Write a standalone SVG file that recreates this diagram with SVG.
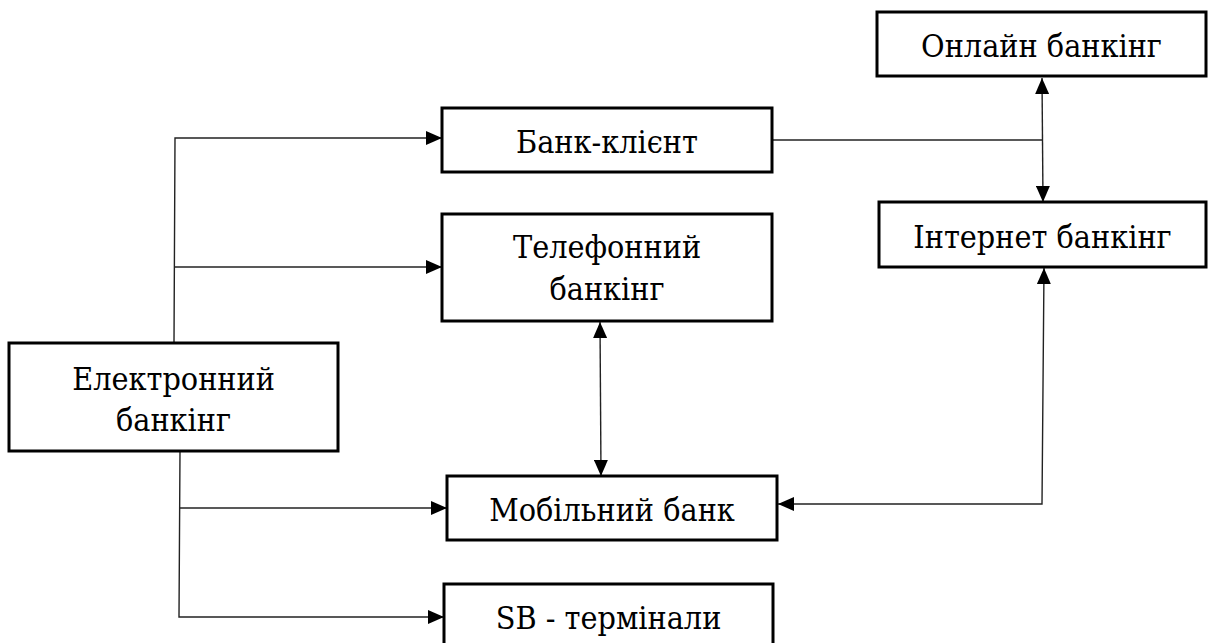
<svg xmlns="http://www.w3.org/2000/svg" width="1208" height="643" viewBox="0 0 1208 643">
<style>
.box{fill:#fff;stroke:#000;stroke-width:3}
.t{font-family:'DejaVu Serif Condensed','DejaVu Serif',serif;font-stretch:condensed;font-size:32px;fill:#000;text-anchor:middle}
.c{fill:none;stroke:#222;stroke-width:1.4}
</style>
<defs>
<marker id="ah" markerUnits="userSpaceOnUse" viewBox="0 0 16 14" refX="16" refY="7" markerWidth="16" markerHeight="14" orient="auto-start-reverse">
<path d="M0,0 L16,7 L0,14 Z" fill="#000"/>
</marker>
</defs>
<rect width="1208" height="643" fill="#fff"/>
<g id="connectors">
<path class="c" d="M174,343 L175,138 L442,138" marker-end="url(#ah)"/>
<path class="c" d="M174,267 L442,267" marker-end="url(#ah)"/>
<path class="c" d="M180,451 L179,617 L444,617" marker-end="url(#ah)"/>
<path class="c" d="M180,508 L447,508" marker-end="url(#ah)"/>
<path class="c" d="M600,322 L601,476" marker-start="url(#ah)" marker-end="url(#ah)"/>
<path class="c" d="M772,140 L1043,140"/>
<path class="c" d="M1042,78 L1043,202" marker-start="url(#ah)" marker-end="url(#ah)"/>
<path class="c" d="M778,504 L1042,504 L1044,268" marker-start="url(#ah)" marker-end="url(#ah)"/>
</g>
<g id="online">
<rect class="box" x="877" y="12" width="329" height="64"/>
<text class="t" x="1041.5" y="57">Онлайн банкінг</text>
</g>
<g id="bank-client">
<rect class="box" x="442" y="108" width="330" height="64"/>
<text class="t" x="607" y="153">Банк-клієнт</text>
</g>
<g id="internet">
<rect class="box" x="879" y="202" width="327" height="65"/>
<text class="t" x="1042.5" y="248">Інтернет банкінг</text>
</g>
<g id="telephone">
<rect class="box" x="442" y="214" width="330" height="107"/>
<text class="t" x="607" y="258">Телефонний</text>
<text class="t" x="607" y="300">банкінг</text>
</g>
<g id="electronic">
<rect class="box" x="9" y="343" width="329" height="108"/>
<text class="t" x="173.5" y="390">Електронний</text>
<text class="t" x="173.5" y="431">банкінг</text>
</g>
<g id="mobile">
<rect class="box" x="447" y="476" width="330" height="64"/>
<text class="t" x="612" y="521">Мобільний банк</text>
</g>
<g id="sb">
<rect class="box" x="444" y="584" width="329" height="64"/>
<text class="t" x="608.5" y="629">SB - термінали</text>
</g>
</svg>
